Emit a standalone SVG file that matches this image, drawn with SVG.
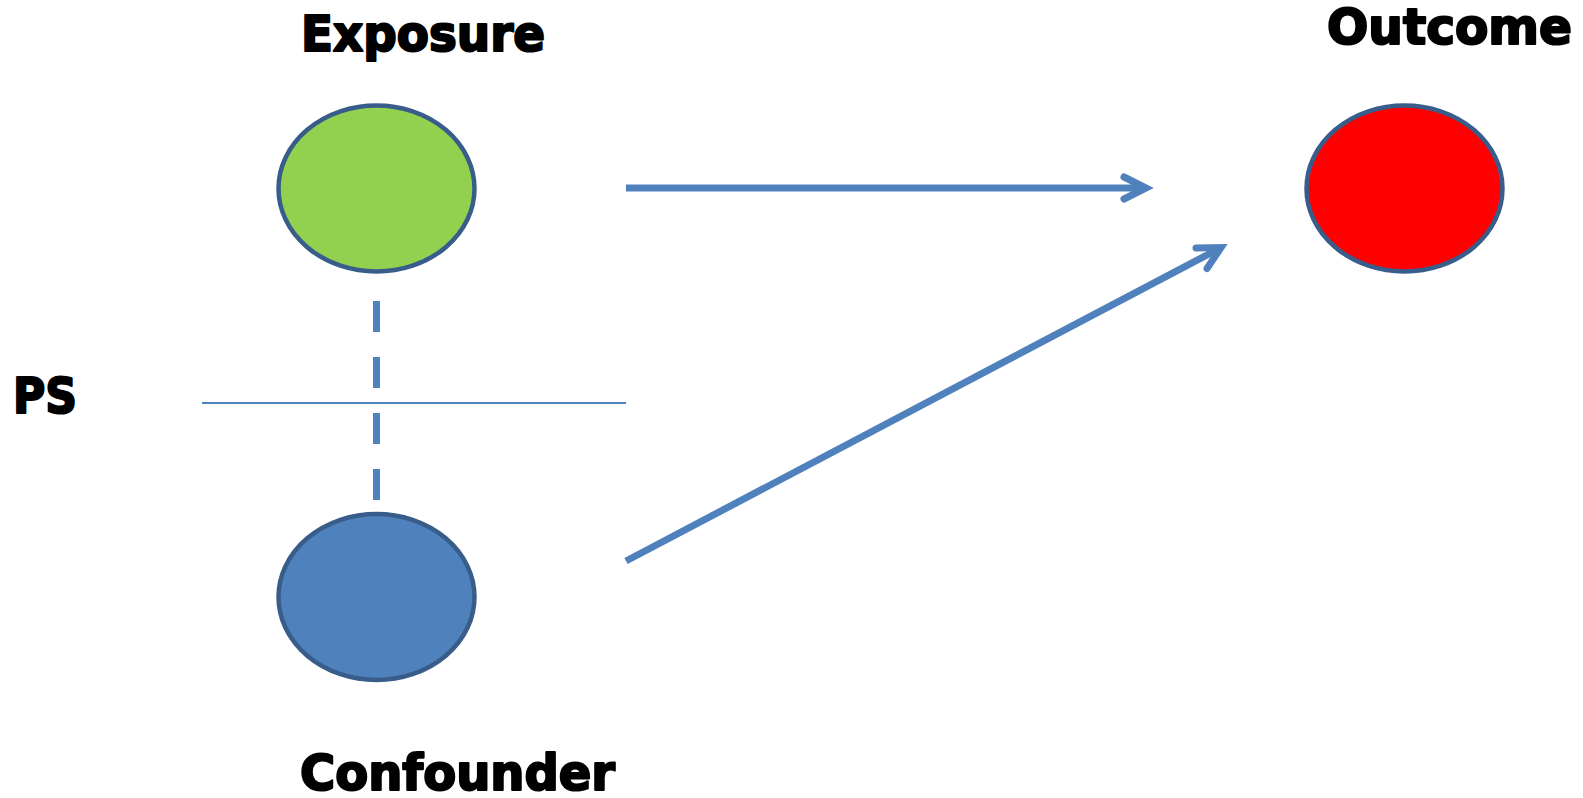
<svg xmlns="http://www.w3.org/2000/svg" width="1583" height="798" viewBox="0 0 1583 798">
  <style>
    .lbl { font-family: "DejaVu Sans", "Liberation Sans", sans-serif; font-weight: bold; font-size: 49px; fill: #000; stroke: #000; stroke-width: 2.2; stroke-linejoin: round; }
    .node { stroke: #385D8A; stroke-width: 4.5; }
    .conn { stroke: #4F81BD; fill: none; }
  </style>
  <rect width="1583" height="798" fill="#fff"/>
  <g id="connectors">
    <line class="conn" x1="376.5" y1="301" x2="376.5" y2="502" stroke-width="7" stroke-dasharray="31 25"/>
    <line class="conn" x1="202" y1="403" x2="626" y2="403" stroke-width="2"/>
    <line class="conn" x1="626" y1="188" x2="1146" y2="188" stroke-width="7"/>
    <polyline class="conn" points="1124,177 1146,188 1124,199" stroke-width="7" stroke-linejoin="miter" stroke-linecap="round" stroke-miterlimit="10"/>
    <line class="conn" x1="626" y1="561" x2="1221" y2="247.6" stroke-width="7"/>
    <polyline class="conn" points="1196,248 1221,247.6 1207,268.5" stroke-width="7" stroke-linejoin="miter" stroke-linecap="round" stroke-miterlimit="10"/>
  </g>
  <g id="exposure">
    <ellipse class="node" cx="376.5" cy="188.5" rx="98" ry="83" fill="#92D050"/>
    <text class="lbl" x="301" y="51" textLength="244" lengthAdjust="spacingAndGlyphs">Exposure</text>
  </g>
  <g id="outcome">
    <ellipse class="node" cx="1404.5" cy="188.5" rx="98" ry="83" fill="#FF0000"/>
    <text class="lbl" x="1327" y="44" textLength="245" lengthAdjust="spacingAndGlyphs">Outcome</text>
  </g>
  <g id="confounder">
    <ellipse class="node" cx="376.5" cy="597" rx="98" ry="83" fill="#4F81BD"/>
    <text class="lbl" x="300" y="790" textLength="315" lengthAdjust="spacingAndGlyphs">Confounder</text>
  </g>
  <g id="ps">
    <text class="lbl" x="13" y="413" textLength="64" lengthAdjust="spacingAndGlyphs">PS</text>
  </g>
</svg>
